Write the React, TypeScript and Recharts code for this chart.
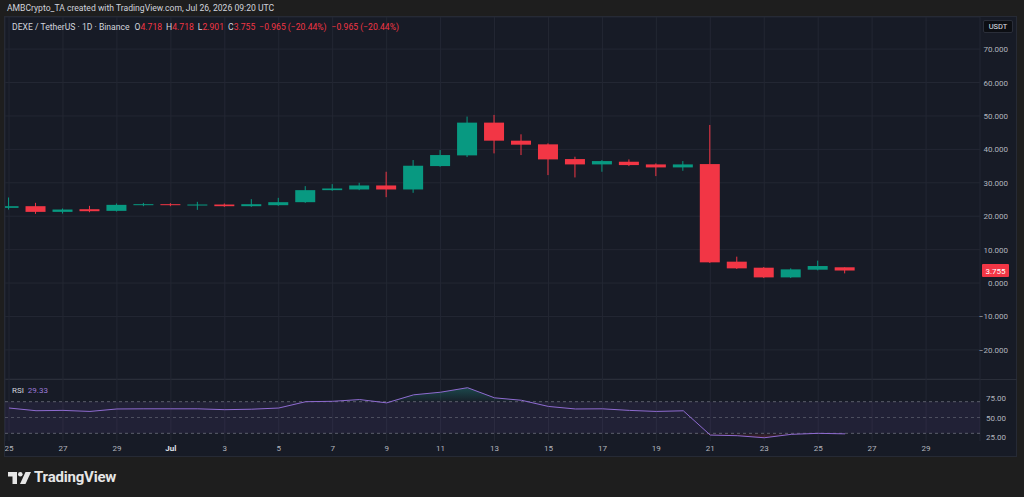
import React from 'react';
import {
  ComposedChart,
  Bar,
  Line,
  Area,
  XAxis,
  YAxis,
  CartesianGrid,
  ReferenceLine,
  ReferenceArea,
} from 'recharts';

// ---- Data ----
// day index 0 = Jun 25 ... 31 = Jul 26
const dayIndex = [
  0, 1, 2, 3, 4, 5, 6, 7, 8, 9, 10, 11, 12, 13, 14, 15,
  16, 17, 18, 19, 20, 21, 22, 23, 24, 25, 26, 27, 28, 29, 30, 31,
];
const opens = [
  22.5, 23.0, 21.3, 22.1, 21.6, 23.3, 23.6, 23.3, 23.5, 23.0, 23.3, 24.2, 27.8, 28.0, 29.2, 28.0,
  35.0, 38.2, 48.0, 42.6, 41.5, 37.1, 35.5, 36.3, 35.5, 34.6, 35.6, 6.4, 4.6, 1.7, 4.0, 4.718,
];
const highs = [
  25.6, 24.0, 22.3, 23.1, 23.8, 24.0, 23.9, 24.3, 23.8, 25.1, 25.5, 29.0, 29.6, 30.0, 33.3, 36.8,
  39.8, 49.8, 50.3, 44.5, 41.8, 37.8, 36.8, 37.0, 35.8, 36.5, 47.3, 7.9, 4.8, 4.4, 6.7, 4.718,
];
const lows = [
  22.0, 20.7, 20.8, 21.2, 21.4, 23.0, 23.0, 21.9, 22.8, 22.8, 23.1, 24.0, 27.6, 27.8, 25.7, 27.0,
  34.8, 37.7, 38.8, 38.3, 32.3, 31.6, 33.3, 35.0, 32.0, 33.6, 6.0, 4.2, 1.5, 1.5, 3.8, 2.901,
];
const closes = [
  23.0, 21.3, 22.0, 21.5, 23.4, 23.6, 23.3, 23.5, 23.0, 23.6, 24.2, 27.8, 28.3, 29.2, 28.0, 35.1,
  38.3, 48.0, 42.6, 41.4, 37.0, 35.5, 36.5, 35.3, 34.6, 35.5, 6.2, 4.4, 1.7, 4.1, 5.1, 3.755,
];
const rsiValues = [
  62, 58.6, 59, 57.7, 60.8, 61, 61, 61, 59.9, 60.5, 62, 70, 70.5, 72.7, 68.5, 78.7,
  82, 87.7, 74.9, 71.8, 64, 60.8, 61, 59, 57.7, 58.5, 27.8, 27, 24.4, 28.7, 30, 29.33,
];

// x tick positions (day index) and labels
const xTickIndex = [0, 2, 4, 6, 8, 10, 12, 14, 16, 18, 20, 22, 24, 26, 28, 30, 32, 34];
const xTickLabels = [
  '25', '27', '29', 'Jul', '3', '5', '7', '9', '11', '13', '15', '17', '19', '21', '23', '25', '27', '29',
];
const priceTicks = [-20, -10, 0, 10, 20, 30, 40, 50, 60, 70];
const rsiTicks = [25, 50, 75];
const lastPrice = 3.755;

const X_DOMAIN: [number, number] = [-0.15, 36.0];
const PRICE_DOMAIN: [number, number] = [-28.7, 79.6];
const RSI_DOMAIN: [number, number] = [20.3, 98.7];

const UP = '#089981';
const DOWN = '#f23645';
const GRID = '#232733';
const TEXT = '#b2b5be';
const FONT = 'Roboto, "Liberation Sans", sans-serif';

const candleData = dayIndex.map((d, i) => ({
  idx: d,
  open: opens[i],
  high: highs[i],
  low: lows[i],
  close: closes[i],
}));
const rsiData = dayIndex.map((d, i) => ({ idx: d, rsi: rsiValues[i] }));

const fmtPrice = (v: number) => v.toFixed(3).replace('-', '\u2212');
const xLabel = (v: number) => {
  const k = xTickIndex.indexOf(v);
  return k >= 0 ? xTickLabels[k] : '';
};

const Candle = (props: any) => {
  const { x, y, width, height, payload } = props;
  if (x == null || y == null || !payload) return null;
  const top = Math.min(y, y + height);
  const h = Math.abs(height);
  const { open, close, high, low } = payload;
  const ratio = high - low > 0 ? h / (high - low) : 0;
  const bodyTop = top + (high - Math.max(open, close)) * ratio;
  const bodyBot = top + (high - Math.min(open, close)) * ratio;
  const color = close >= open ? UP : DOWN;
  const cx = x + width / 2;
  return (
    <g>
      <line x1={cx} x2={cx} y1={top} y2={top + h} stroke={color} strokeWidth={1} />
      <rect x={x} y={bodyTop} width={width} height={Math.max(1, bodyBot - bodyTop)} fill={color} />
    </g>
  );
};

const PriceTick = (props: any) => {
  const { x, y, payload } = props;
  return (
    <text x={x + 28} y={y} dy={3} textAnchor="end" fill={TEXT} fontSize={8} fontFamily={FONT}>
      {fmtPrice(payload.value)}
    </text>
  );
};

const RsiTick = (props: any) => {
  const { x, y, payload } = props;
  return (
    <text x={x + 26} y={y} dy={3} textAnchor="end" fill={TEXT} fontSize={8} fontFamily={FONT}>
      {Number(payload.value).toFixed(2)}
    </text>
  );
};

const XTick = (props: any) => {
  const { x, y, payload } = props;
  const label = xLabel(payload.value);
  const isMonth = label === 'Jul';
  return (
    <text
      x={x}
      y={y}
      dy={10}
      textAnchor="middle"
      fill={isMonth ? '#e0e3eb' : TEXT}
      fontWeight={isMonth ? 700 : 400}
      fontSize={8}
      fontFamily={FONT}
    >
      {label}
    </text>
  );
};

const PriceTag = (props: any) => {
  const vb = props.viewBox;
  if (!vb) return null;
  const left = vb.x + vb.width + 2;
  return (
    <g>
      <rect x={left} y={vb.y - 6.5} width={27} height={13} fill={DOWN} rx={1} />
      <text x={left + 13.5} y={vb.y} dy={3} textAnchor="middle" fill="#ffffff" fontSize={8} fontFamily={FONT}>
        {lastPrice.toFixed(3)}
      </text>
    </g>
  );
};

const Logo = () => (
  <svg width={24} height={14} viewBox="0 0 24 14" style={{ position: 'absolute', left: 8, top: 471 }}>
    <path d="M0 1 H9 V13 H4.5 V5.5 H0 Z" fill="#e6e6e6" />
    <circle cx={12.3} cy={3.3} r={2.3} fill="#e6e6e6" />
    <path d="M17.5 1 H23 L17.5 13 H12 Z" fill="#e6e6e6" />
  </svg>
);

export default function App() {
  return (
    <div
      style={{
        position: 'absolute',
        left: 0,
        top: 0,
        width: 1024,
        height: 497,
        background: '#1e1e1e',
        fontFamily: FONT,
        overflow: 'hidden',
      }}
    >
      <div style={{ position: 'absolute', left: 7, top: 3, fontSize: 8.6, color: '#d1d4dc', whiteSpace: 'nowrap' }}>
        AMBCrypto_TA created with TradingView.com, Jul 26, 2026 09:20 UTC
      </div>

      {/* chart panel */}
      <div
        style={{
          position: 'absolute',
          left: 4,
          top: 16,
          width: 1013,
          height: 441,
          background: '#171b26',
          border: '1px solid #262a35',
          boxSizing: 'border-box',
        }}
      />

      {/* main price pane */}
      <div style={{ position: 'absolute', left: 5, top: 17 }}>
        <ComposedChart
          width={1012}
          height={362}
          data={candleData}
          margin={{ top: 0, right: 0, bottom: 0, left: 0 }}
        >
          <CartesianGrid stroke={GRID} strokeWidth={1} />
          <XAxis
            dataKey="idx"
            type="number"
            domain={X_DOMAIN}
            ticks={xTickIndex}
            allowDataOverflow
            hide
          />
          <YAxis
            orientation="right"
            width={37}
            domain={PRICE_DOMAIN}
            ticks={priceTicks}
            interval={0}
            allowDataOverflow
            axisLine={false}
            tickLine={false}
            tickSize={0}
            tickMargin={0}
            tick={<PriceTick />}
          />
          <Bar
            dataKey={(d: any) => [d.low, d.high]}
            barSize={20}
            shape={<Candle />}
            isAnimationActive={false}
          />
          <ReferenceLine y={lastPrice} stroke={DOWN} strokeOpacity={0} label={<PriceTag />} />
        </ComposedChart>
      </div>

      {/* USDT box */}
      <div
        style={{
          position: 'absolute',
          left: 983,
          top: 20,
          width: 30,
          height: 13,
          background: '#0c0e13',
          border: '1px solid #2a2e39',
          boxSizing: 'border-box',
          color: '#e0e3eb',
          fontSize: 7.5,
          lineHeight: '11px',
          textAlign: 'center',
          borderRadius: 2,
        }}
      >
        USDT
      </div>

      {/* legend */}
      <div style={{ position: 'absolute', left: 12, top: 22, fontSize: 8.6, color: '#d1d4dc', whiteSpace: 'nowrap' }}>
        <span>DEXE / TetherUS · 1D · Binance</span>
        <span style={{ marginLeft: 5 }}>O</span>
        <span style={{ color: DOWN }}>4.718</span>
        <span style={{ marginLeft: 4 }}>H</span>
        <span style={{ color: DOWN }}>4.718</span>
        <span style={{ marginLeft: 4 }}>L</span>
        <span style={{ color: DOWN }}>2.901</span>
        <span style={{ marginLeft: 4 }}>C</span>
        <span style={{ color: DOWN }}>3.755</span>
        <span style={{ color: DOWN, marginLeft: 4 }}>−0.965 (−20.44%)</span>
        <span style={{ color: DOWN, marginLeft: 5 }}>−0.965 (−20.44%)</span>
      </div>

      {/* separator */}
      <div style={{ position: 'absolute', left: 5, top: 379, width: 1012, height: 1, background: '#2a2e39' }} />

      {/* RSI pane */}
      <div style={{ position: 'absolute', left: 5, top: 379 }}>
        <ComposedChart
          width={1012}
          height={78}
          data={rsiData}
          margin={{ top: 0, right: 0, bottom: 0, left: 0 }}
        >
          <defs>
            <linearGradient id="obFill" x1="0" y1="0" x2="0" y2="1">
              <stop offset="0%" stopColor="#26a69a" stopOpacity={0.55} />
              <stop offset="100%" stopColor="#26a69a" stopOpacity={0.05} />
            </linearGradient>
            <linearGradient id="osFill" x1="0" y1="0" x2="0" y2="1">
              <stop offset="0%" stopColor="#f23645" stopOpacity={0.05} />
              <stop offset="100%" stopColor="#f23645" stopOpacity={0.4} />
            </linearGradient>
          </defs>
          <CartesianGrid stroke={GRID} horizontal={false} />
          <XAxis
            dataKey="idx"
            type="number"
            domain={X_DOMAIN}
            ticks={xTickIndex}
            interval={0}
            allowDataOverflow
            height={16}
            axisLine={false}
            tickLine={false}
            tickSize={0}
            tickMargin={0}
            tick={<XTick />}
          />
          <YAxis
            orientation="right"
            width={37}
            domain={RSI_DOMAIN}
            ticks={rsiTicks}
            interval={0}
            allowDataOverflow
            axisLine={false}
            tickLine={false}
            tickSize={0}
            tickMargin={0}
            tick={<RsiTick />}
          />
          <ReferenceArea y1={30} y2={70} fill="#7e57c2" fillOpacity={0.1} stroke="none" />
          <ReferenceLine y={70} stroke="#787b86" strokeOpacity={0.7} strokeDasharray="3 3" />
          <ReferenceLine y={50} stroke="#787b86" strokeOpacity={0.5} strokeDasharray="3 3" />
          <ReferenceLine y={30} stroke="#787b86" strokeOpacity={0.7} strokeDasharray="3 3" />
          <Area
            dataKey={(d: any) => [70, Math.max(70, d.rsi)]}
            type="linear"
            stroke="none"
            fill="url(#obFill)"
            isAnimationActive={false}
          />
          <Area
            dataKey={(d: any) => [Math.min(30, d.rsi), 30]}
            type="linear"
            stroke="none"
            fill="url(#osFill)"
            isAnimationActive={false}
          />
          <Line
            dataKey="rsi"
            type="linear"
            stroke="#8e6bd0"
            strokeWidth={1}
            dot={false}
            isAnimationActive={false}
          />
        </ComposedChart>
      </div>

      {/* RSI legend */}
      <div style={{ position: 'absolute', left: 12, top: 386, fontSize: 8, color: '#d1d4dc', whiteSpace: 'nowrap' }}>
        <span>RSI</span>
        <span style={{ color: '#9c7ad8', marginLeft: 4 }}>29.33</span>
      </div>

      {/* TradingView brand */}
      <Logo />
      <div
        style={{
          position: 'absolute',
          left: 34,
          top: 468,
          fontSize: 15,
          fontWeight: 700,
          color: '#e6e6e6',
          letterSpacing: -0.2,
          whiteSpace: 'nowrap',
        }}
      >
        TradingView
      </div>
    </div>
  );
}
